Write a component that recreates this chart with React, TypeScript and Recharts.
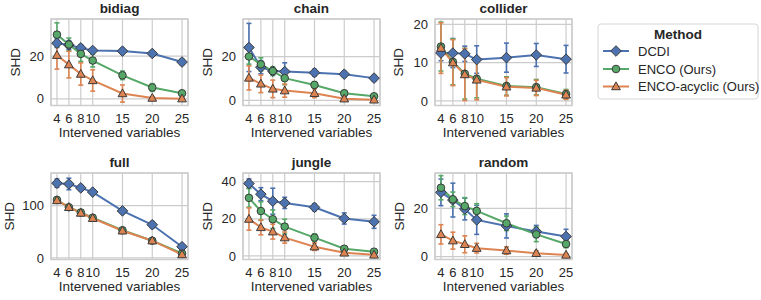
import React from "react";
import {
  ComposedChart,
  Line,
  XAxis,
  YAxis,
  CartesianGrid,
  ErrorBar,
  ReferenceArea,
} from "recharts";

// number of intervened variables (x axis of every panel)
const interventions = [4, 6, 8, 10, 15, 20, 25];
const methodNames = ["DCDI", "ENCO (Ours)", "ENCO-acyclic (Ours)"];

// bidiag
const bidiagDcdi = [26, 25.2, 23.8, 22.6, 22.3, 21.2, 17.2];
const bidiagDcdiErr = [2, 2, 1.5, 1, 1.2, 1.2, 1.3];
const bidiagEnco = [30, 25.4, 21, 17.9, 11, 5.3, 2.6];
const bidiagEncoErr = [5.5, 3, 3.5, 3, 2, 1.8, 1];
const bidiagAcyc = [20.4, 16, 11.6, 8.6, 2.5, 0.4, 0.1];
const bidiagAcycErr = [6.5, 6.2, 5.2, 5, 4, 0.6, 0.3];

// chain
const chainDcdi = [24.2, 15.2, 13.4, 13.2, 12.7, 12, 10.2];
const chainDcdiErr = [11, 3, 1.5, 4, 1.5, 1.2, 1.2];
const chainEnco = [20.1, 16.5, 13.4, 10.2, 7.1, 3.3, 1.9];
const chainEncoErr = [3.5, 3, 2, 3, 1.5, 1.2, 1];
const chainAcyc = [10.3, 7.6, 5.3, 4.5, 3.3, 0.8, 0.3];
const chainAcycErr = [5.5, 4, 4, 3, 2, 0.8, 0.3];

// collider
const colliderDcdi = [12.5, 12.5, 12.3, 10.8, 11.3, 12, 10.9];
const colliderDcdiErr = [2, 3.8, 2, 3.6, 3.8, 3, 3.6];
const colliderEnco = [14.2, 10.2, 7.1, 5.8, 3.9, 3.6, 1.8];
const colliderEncoErr = [6.4, 6, 6.6, 5, 2.4, 2, 1.2];
const colliderAcyc = [13.8, 10, 6.9, 5.5, 3.7, 3.4, 1.6];
const colliderAcycErr = [6.6, 6, 6.8, 5.2, 2.4, 2, 1.2];

// full
const fullDcdi = [143, 141.5, 134, 126, 90, 63.5, 21.5];
const fullDcdiErr = [8, 11, 5, 4, 4, 6, 4];
const fullEnco = [111, 97, 87, 77, 53, 33, 8.5];
const fullEncoErr = [5, 4, 5, 5, 4, 3, 2];
const fullAcyc = [110, 97, 86, 76, 52, 33, 6.5];
const fullAcycErr = [5, 4, 5, 5, 5, 3, 2];

// jungle
const jungleDcdi = [39, 33.3, 29.5, 28.6, 26.2, 20.2, 18.4];
const jungleDcdiErr = [2.5, 3.5, 7, 3, 1.8, 3, 3.5];
const jungleEnco = [31.3, 24.2, 19.8, 15.8, 9.9, 3.9, 2.3];
const jungleEncoErr = [5, 5, 5, 4, 2, 1.2, 1];
const jungleAcyc = [19.9, 15.4, 13.1, 9.9, 5, 1.7, 0.6];
const jungleAcycErr = [6, 4, 4, 3, 2, 1, 0.5];

// random
const randomDcdi = [26.6, 23.4, 19.7, 15.2, 12.7, 10.4, 8.3];
const randomDcdiErr = [5.5, 7, 4.5, 6, 5, 2.5, 3];
const randomEnco = [28.5, 23.7, 20.9, 18.9, 13.8, 9.2, 5.2];
const randomEncoErr = [5, 3, 3.5, 3, 3, 3, 1.5];
const randomAcyc = [9.2, 6.6, 5.1, 3.5, 2.5, 1.4, 0.7];
const randomAcycErr = [4, 3.5, 3.5, 2, 1.5, 1, 0.5];

const BLUE = "#4c72b0";
const GREEN = "#55a868";
const ORANGE = "#dd8452";
const EDGE = "#3a3a3a";
const GRID = "#cccccc";
const TEXT = "#262626";
const FONT = "'Liberation Sans', Arial, Helvetica, sans-serif";

const PLOT_W = 137;
const PLOT_H = 86.5;
const AXIS_W = 48;
const TOP_M = 4;
const RIGHT_M = 6;
const X_AXIS_H = 40;
const X_DOMAIN = [3, 26];

const tickStyle = { fill: TEXT, fontSize: 13, fontFamily: FONT };

function diamondPath(cx: number, cy: number, s: number) {
  return `M${cx},${cy - s}L${cx + s},${cy}L${cx},${cy + s}L${cx - s},${cy}Z`;
}

function trianglePath(cx: number, cy: number, s: number) {
  return `M${cx},${cy - s}L${cx + s * 0.95},${cy + s * 0.7}L${cx - s * 0.95},${cy + s * 0.7}Z`;
}

function DiamondDot(props: any) {
  const { cx, cy, index } = props;
  if (cx == null || cy == null) return <g key={`dd-${index}`} />;
  return (
    <path key={`dd-${index}`} d={diamondPath(cx, cy, 5.3)} fill={BLUE} stroke={EDGE} strokeWidth={1} />
  );
}

function CircleDot(props: any) {
  const { cx, cy, index } = props;
  if (cx == null || cy == null) return <g key={`cd-${index}`} />;
  return <circle key={`cd-${index}`} cx={cx} cy={cy} r={3.8} fill={GREEN} stroke={EDGE} strokeWidth={1} />;
}

function TriangleDot(props: any) {
  const { cx, cy, index } = props;
  if (cx == null || cy == null) return <g key={`td-${index}`} />;
  return (
    <path key={`td-${index}`} d={trianglePath(cx, cy, 4.6)} fill={ORANGE} stroke={EDGE} strokeWidth={1} />
  );
}

interface PanelProps {
  title: string;
  left: number;
  top: number;
  dcdi: number[];
  dcdiErr: number[];
  enco: number[];
  encoErr: number[];
  acyc: number[];
  acycErr: number[];
  yDomain: [number, number];
  yTicks: number[];
  labelGap: number;
}

function Panel({ title, left, top, dcdi, dcdiErr, enco, encoErr, acyc, acycErr, yDomain, yTicks, labelGap }: PanelProps) {
  const data = interventions.map((x, i) => ({
    x,
    dcdi: dcdi[i],
    dcdiErr: dcdiErr[i],
    enco: enco[i],
    encoErr: encoErr[i],
    acyc: acyc[i],
    acycErr: acycErr[i],
  }));

  const renderYTitle = (p: any) => {
    const vb = p.viewBox || {};
    const cx = vb.x + vb.width - labelGap;
    const cy = vb.y + vb.height / 2;
    return (
      <text
        x={cx}
        y={cy}
        transform={`rotate(-90, ${cx}, ${cy})`}
        textAnchor="middle"
        dominantBaseline="central"
        fill={TEXT}
        fontSize={13.5}
        fontFamily={FONT}
      >
        SHD
      </text>
    );
  };

  const renderXTitle = (p: any) => {
    const vb = p.viewBox || {};
    return (
      <text
        x={vb.x + vb.width / 2}
        y={vb.y + 27}
        textAnchor="middle"
        dominantBaseline="central"
        fill={TEXT}
        fontSize={13.5}
        fontFamily={FONT}
      >
        Intervened variables
      </text>
    );
  };

  return (
    <>
      <div
        style={{
          position: "absolute",
          left,
          top: top - 18,
          width: PLOT_W,
          textAlign: "center",
          fontFamily: FONT,
          fontWeight: "bold",
          fontSize: 13.5,
          lineHeight: "16px",
          color: TEXT,
        }}
      >
        {title}
      </div>
      <div style={{ position: "absolute", left: left - AXIS_W, top: top - TOP_M }}>
        <ComposedChart
          width={AXIS_W + PLOT_W + RIGHT_M}
          height={TOP_M + PLOT_H + X_AXIS_H}
          data={data}
          margin={{ top: TOP_M, right: RIGHT_M, bottom: 0, left: 0 }}
        >
          <CartesianGrid stroke={GRID} strokeWidth={1.2} />
          <ReferenceArea
            x1={X_DOMAIN[0]}
            x2={X_DOMAIN[1]}
            y1={yDomain[0]}
            y2={yDomain[1]}
            fill="none"
            stroke={GRID}
            strokeWidth={1.4}
            ifOverflow="visible"
          />
          <XAxis
            dataKey="x"
            type="number"
            domain={X_DOMAIN}
            allowDataOverflow
            ticks={interventions}
            interval={0}
            tick={tickStyle}
            tickSize={0}
            tickMargin={8}
            axisLine={false}
            tickLine={false}
            height={X_AXIS_H}
            label={{ content: renderXTitle }}
          />
          <YAxis
            type="number"
            domain={yDomain}
            allowDataOverflow
            ticks={yTicks}
            interval={0}
            tick={tickStyle}
            tickSize={0}
            tickMargin={7}
            axisLine={false}
            tickLine={false}
            width={AXIS_W}
            label={{ content: renderYTitle }}
          />
          <Line
            type="linear"
            dataKey="dcdi"
            name={methodNames[0]}
            stroke={BLUE}
            strokeWidth={2}
            dot={DiamondDot}
            activeDot={false}
            isAnimationActive={false}
          >
            <ErrorBar dataKey="dcdiErr" direction="y" width={2.5} stroke={BLUE} strokeWidth={1.6} />
          </Line>
          <Line
            type="linear"
            dataKey="enco"
            name={methodNames[1]}
            stroke={GREEN}
            strokeWidth={2}
            dot={CircleDot}
            activeDot={false}
            isAnimationActive={false}
          >
            <ErrorBar dataKey="encoErr" direction="y" width={2.5} stroke={GREEN} strokeWidth={1.6} />
          </Line>
          <Line
            type="linear"
            dataKey="acyc"
            name={methodNames[2]}
            stroke={ORANGE}
            strokeWidth={2}
            dot={TriangleDot}
            activeDot={false}
            isAnimationActive={false}
          >
            <ErrorBar dataKey="acycErr" direction="y" width={2.5} stroke={ORANGE} strokeWidth={1.6} />
          </Line>
        </ComposedChart>
      </div>
    </>
  );
}

function MethodLegend() {
  const colors = [BLUE, GREEN, ORANGE];
  const rowsY = [28, 46, 63.5];
  return (
    <svg
      width={163}
      height={78}
      style={{ position: "absolute", left: 597, top: 23 }}
    >
      <rect x={1} y={1} width={160} height={75} rx={3} fill="#fff" stroke="#d6d6d6" strokeWidth={1} />
      <text x={81} y={11} textAnchor="middle" dominantBaseline="central" fontFamily={FONT} fontWeight="bold" fontSize={13.5} fill={TEXT}>
        Method
      </text>
      {methodNames.map((name, i) => {
        const y = rowsY[i];
        const cx = 19;
        return (
          <g key={name}>
            <line x1={6} x2={32} y1={y} y2={y} stroke={colors[i]} strokeWidth={2} />
            {i === 0 && <path d={diamondPath(cx, y, 5.3)} fill={BLUE} stroke={EDGE} strokeWidth={1} />}
            {i === 1 && <circle cx={cx} cy={y} r={3.8} fill={GREEN} stroke={EDGE} strokeWidth={1} />}
            {i === 2 && <path d={trianglePath(cx, y, 4.6)} fill={ORANGE} stroke={EDGE} strokeWidth={1} />}
            <text x={41} y={y} dominantBaseline="central" fontFamily={FONT} fontSize={13} fill={TEXT}>
              {name}
            </text>
          </g>
        );
      })}
    </svg>
  );
}

const colLefts = [51, 243, 435];
const rowTops = [18.5, 173];

export default function App() {
  return (
    <div style={{ position: "absolute", left: 0, top: 0, width: 761, height: 300, background: "#fff", overflow: "hidden" }}>
      <Panel title="bidiag" left={colLefts[0]} top={rowTops[0]} dcdi={bidiagDcdi} dcdiErr={bidiagDcdiErr} enco={bidiagEnco} encoErr={bidiagEncoErr} acyc={bidiagAcyc} acycErr={bidiagAcycErr} yDomain={[-3.1, 37.3]} yTicks={[0, 20]} labelGap={36} />
      <Panel title="chain" left={colLefts[1]} top={rowTops[0]} dcdi={chainDcdi} dcdiErr={chainDcdiErr} enco={chainEnco} encoErr={chainEncoErr} acyc={chainAcyc} acycErr={chainAcycErr} yDomain={[-2.3, 37.2]} yTicks={[0, 20]} labelGap={36} />
      <Panel title="collider" left={colLefts[2]} top={rowTops[0]} dcdi={colliderDcdi} dcdiErr={colliderDcdiErr} enco={colliderEnco} encoErr={colliderEncoErr} acyc={colliderAcyc} acycErr={colliderAcycErr} yDomain={[-1.2, 21.4]} yTicks={[0, 10, 20]} labelGap={37} />
      <Panel title="full" left={colLefts[0]} top={rowTops[1]} dcdi={fullDcdi} dcdiErr={fullDcdiErr} enco={fullEnco} encoErr={fullEncoErr} acyc={fullAcyc} acycErr={fullAcycErr} yDomain={[-3, 162.5]} yTicks={[0, 100]} labelGap={42} />
      <Panel title="jungle" left={colLefts[1]} top={rowTops[1]} dcdi={jungleDcdi} dcdiErr={jungleDcdiErr} enco={jungleEnco} encoErr={jungleEncoErr} acyc={jungleAcyc} acycErr={jungleAcycErr} yDomain={[-1.9, 44.7]} yTicks={[0, 20, 40]} labelGap={36} />
      <Panel title="random" left={colLefts[2]} top={rowTops[1]} dcdi={randomDcdi} dcdiErr={randomDcdiErr} enco={randomEnco} encoErr={randomEncoErr} acyc={randomAcyc} acycErr={randomAcycErr} yDomain={[-1.2, 34.6]} yTicks={[0, 20]} labelGap={36} />
      <MethodLegend />
    </div>
  );
}
